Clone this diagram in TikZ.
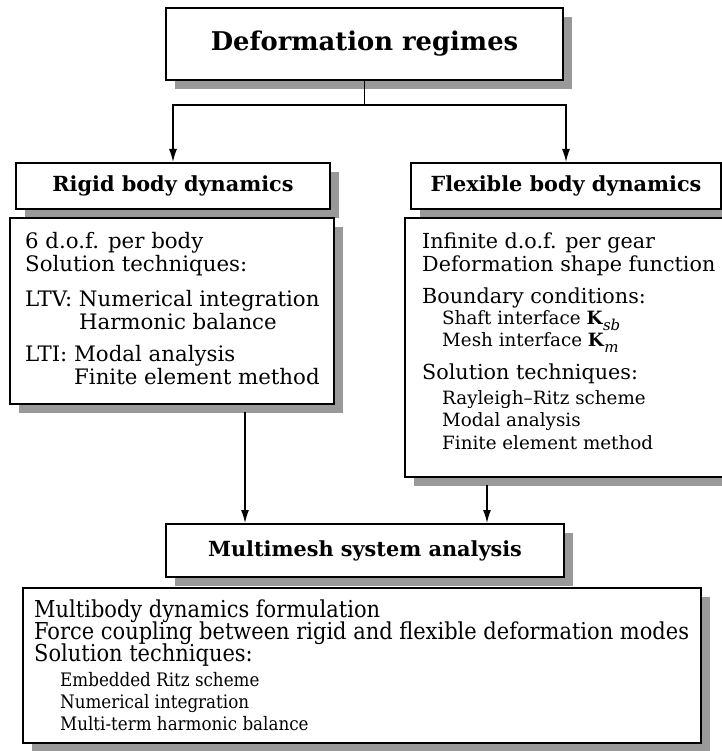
\documentclass[tikz,border=0pt]{standalone}
\usepackage{fontspec}
\setmainfont{DejaVu Serif}
\newfontfamily\condfont{DejaVu Serif Condensed}
\usetikzlibrary{arrows.meta,shadows}
\begin{document}
\begin{tikzpicture}[x=1pt,y=-1pt,
  box/.style={draw=black, line width=2pt, fill=white, inner sep=0pt, anchor=north west,
    drop shadow={shadow xshift=9pt, shadow yshift=-9pt, fill=black!40, draw=none, opacity=1}},
  ttl/.style={font=\fontsize{20.8}{24}\selectfont\bfseries},
  txt/.style={anchor=base west, inner sep=0pt, font=\fontsize{20.7}{23}\selectfont},
  rtxt/.style={anchor=base west, inner sep=0pt, font=\fontsize{21.3}{23}\selectfont},
  sub/.style={anchor=base west, inner sep=0pt, font=\fontsize{18.3}{22}\selectfont},
  btxt/.style={anchor=base west, inner sep=0pt, font=\condfont\fontsize{23.3}{24}\selectfont},
  bsub/.style={anchor=base west, inner sep=0pt, font=\condfont\fontsize{18.6}{22}\selectfont},
  conn/.style={line width=1.3pt},
  arr/.style={line width=1.3pt, -{Latex[length=13pt,width=8pt]}}]
\useasboundingbox (0,0) rectangle (721,751);
\fill[white] (0,0) rectangle (721,751);

% boxes
\node[box, minimum width=397pt, minimum height=72pt, font=\fontsize{25.8}{30}\selectfont\bfseries] (top) at (165,7) {Deformation regimes};
\node[box, ttl, minimum width=314pt, minimum height=46pt] (rigt) at (15,162) {Rigid body dynamics};
\node[box, ttl, minimum width=310pt, minimum height=46pt] (flext) at (410,162) {Flexible body dynamics};
\node[box, minimum width=324pt, minimum height=186pt] (rigc) at (9,217) {};
\node[box, minimum width=330pt, minimum height=259pt] (flexc) at (404,217) {};
\node[box, ttl, minimum width=398pt, minimum height=53pt] (mm) at (165,523) {Multimesh system analysis};
\node[box, minimum width=678pt, minimum height=155pt] (bot) at (22,587) {};

% connectors
\draw[conn] (top.south) -- ++(0,24) coordinate (j);
\draw[arr] (j) -| (rigt.north);
\draw[arr] (j) -| (flext.north);
\coordinate (a1) at (245,412);
\coordinate (a2) at (487,485);
\draw[arr] (a1) -- (a1 |- mm.north);
\draw[arr] (a2) -- (a2 |- mm.north);

% rigid content
\node[rtxt] (r1) at (25,248) {6 d.o.f. per body};
\node[rtxt] (r2) at (25,271) {Solution techniques:};
\node[rtxt] (r3) at (25,306) {LTV: Numerical integration};
\node[rtxt] (r4) at (25,329) {\phantom{LTV: }Harmonic balance};
\node[rtxt] (r5) at (25,361) {LTI: Modal analysis};
\node[rtxt] (r6) at (25,384) {\phantom{LTI: }Finite element method};

% flexible content
\node[txt] (f1) at (422,248) {Infinite d.o.f. per gear};
\node[txt] (f2) at (422,271) {Deformation shape function};
\node[txt] (f3) at (422,303) {Boundary conditions:};
\node[sub] (f4) at (442,324) {Shaft interface \textbf{K}\raisebox{-0.35em}{\fontsize{15}{15}\selectfont\itshape sb}};
\node[sub] (f5) at (442,346) {Mesh interface \textbf{K}\raisebox{-0.35em}{\fontsize{15}{15}\selectfont\itshape m}};
\node[txt] (f6) at (422,379) {Solution techniques:};
\node[sub] (f7) at (442,404) {Rayleigh–Ritz scheme};
\node[sub] (f8) at (442,426) {Modal analysis};
\node[sub] (f9) at (442,449) {Finite element method};

% bottom content
\node[btxt] (b1) at (34,617) {Multibody dynamics formulation};
\node[btxt] (b2) at (34,639) {Force coupling between rigid and flexible deformation modes};
\node[btxt] (b3) at (34,661) {Solution techniques:};
\node[bsub] (b4) at (60,686) {Embedded Ritz scheme};
\node[bsub] (b5) at (60,708) {Numerical integration};
\node[bsub] (b6) at (60,730) {Multi-term harmonic balance};
\end{tikzpicture}
\end{document}
